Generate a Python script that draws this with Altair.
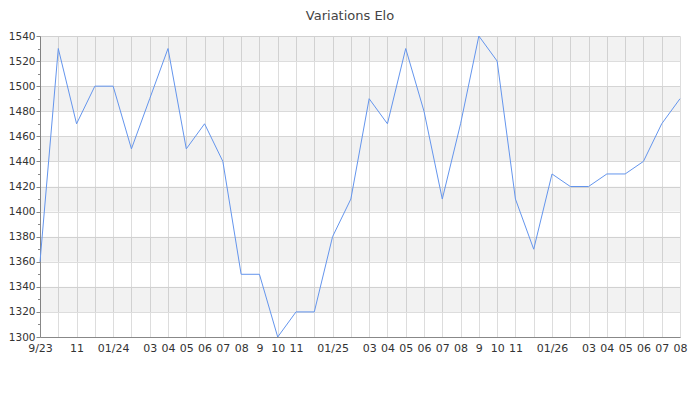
import altair as alt
import pandas as pd

# monthly Elo readings, Sep 2023 -> Aug 2026
months = [
    "2023-09", "2023-10", "2023-11", "2023-12", "2024-01", "2024-02",
    "2024-03", "2024-04", "2024-05", "2024-06", "2024-07", "2024-08",
    "2024-09", "2024-10", "2024-11", "2024-12", "2025-01", "2025-02",
    "2025-03", "2025-04", "2025-05", "2025-06", "2025-07", "2025-08",
    "2025-09", "2025-10", "2025-11", "2025-12", "2026-01", "2026-02",
    "2026-03", "2026-04", "2026-05", "2026-06", "2026-07", "2026-08",
]
elo = [
    1360, 1530, 1470, 1500, 1500, 1450,
    1490, 1530, 1450, 1470, 1440, 1350,
    1350, 1300, 1320, 1320, 1380, 1410,
    1490, 1470, 1530, 1480, 1410, 1470,
    1540, 1520, 1410, 1370, 1430, 1420,
    1420, 1430, 1430, 1440, 1470, 1490,
]
tick_labels = [
    "9/23", "", "11", "", "01/24", "",
    "03", "04", "05", "06", "07", "08",
    "9", "10", "11", "", "01/25", "",
    "03", "04", "05", "06", "07", "08",
    "9", "10", "11", "", "01/26", "",
    "03", "04", "05", "06", "07", "08",
]
band_low = [1320, 1360, 1400, 1440, 1480, 1520]
band_high = [1340, 1380, 1420, 1460, 1500, 1540]

df = pd.DataFrame({"idx": list(range(len(months))), "month": months, "elo": elo})
bands = pd.DataFrame({"lo": band_low, "hi": band_high})

label_expr = "[" + ",".join("'%s'" % t for t in tick_labels) + "][datum.value]"

x_scale = alt.Scale(domain=[0, len(months) - 1], nice=False, zero=False)
y_scale = alt.Scale(domain=[1300, 1540], nice=False, zero=False)

major = "datum.value % 20 === 0"

x_axis = alt.Axis(
    values=list(range(len(months))), labelExpr=label_expr, labelOverlap=False,
    ticks=False, title=None, grid=True, gridColor="#dddddd",
    domainColor="#888888", labelColor="#333333", labelFontSize=11,
    labelPadding=5, labelFlush=False,
)
y_axis = alt.Axis(
    values=list(range(1300, 1541, 10)),
    labelExpr="datum.value % 20 === 0 ? format(datum.value, 'd') : ''",
    labelOverlap=False, labelSeparation=0, title=None, grid=True,
    gridColor="#dddddd",
    gridOpacity={"condition": {"test": major, "value": 1}, "value": 0},
    tickSize={"condition": {"test": major, "value": 4}, "value": 2.5},
    tickColor="#888888", domainColor="#888888", labelColor="#333333",
    labelFontSize=10.5, labelPadding=1, labelFlush=False,
)

# light grey stripes every other 20 points, see-through so the grid shows
band_layer = alt.Chart(bands).mark_rect(color="#000000", opacity=0.05).encode(
    y=alt.Y("lo:Q", scale=y_scale, axis=y_axis),
    y2="hi:Q",
    x=alt.value(0),
    x2=alt.value(640),
)

line = alt.Chart(df).mark_line(color="#6495ed", strokeWidth=1).encode(
    x=alt.X("idx:Q", scale=x_scale, axis=x_axis),
    y=alt.Y("elo:Q", scale=y_scale, axis=y_axis),
)

title = alt.TitleParams(
    "Variations Elo", fontSize=13, fontWeight="normal", color="#444444",
    font="DejaVu Sans", anchor="middle", frame="group", dx=-10, offset=8,
)

chart = alt.layer(band_layer, line, title=title).properties(
    width=640, height=301,
    autosize=alt.AutoSizeParams(type="none"),
    padding={"left": 32, "top": 28, "right": 12, "bottom": 40},
).configure(font="DejaVu Sans").configure_view(stroke=None)

chart.save("out.html", embed_options={"renderer": "svg", "actions": False})
